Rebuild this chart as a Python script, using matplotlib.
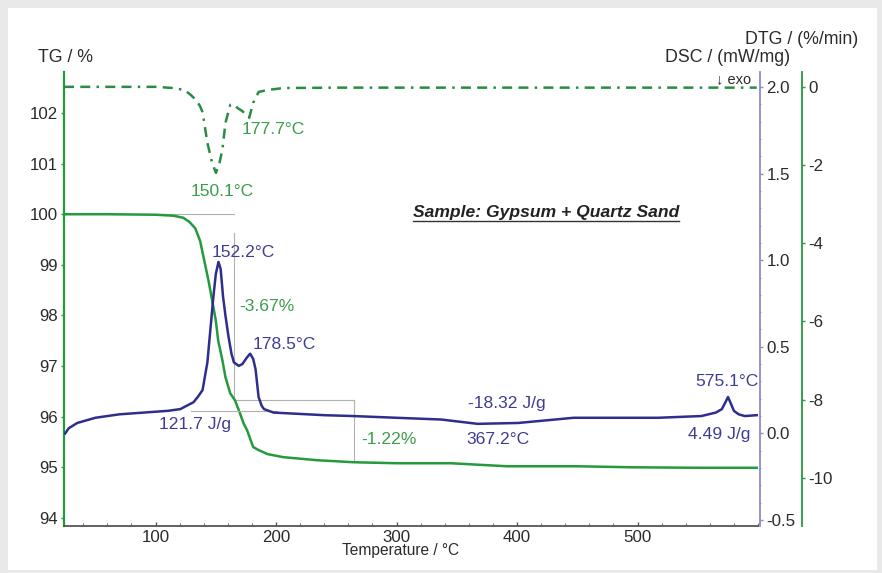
import matplotlib
matplotlib.use("Agg")
import matplotlib.pyplot as plt
from matplotlib.patches import Rectangle
from matplotlib.lines import Line2D
from matplotlib.ticker import MultipleLocator

plt.rcParams['font.family'] = ['Liberation Sans', 'DejaVu Sans']

# ---------------- data ----------------
tg_temp = [24, 60, 100, 115, 123, 128, 133, 137, 140, 144, 147, 150, 152, 155.5, 158,
           162, 166, 170, 173, 176, 181, 185.5, 193, 206, 234, 264, 300, 345, 392,
           450, 496, 553, 599]
tg_val = [100.0, 100.0, 99.99, 99.97, 99.93, 99.85, 99.72, 99.47, 99.13, 98.68, 98.29,
          97.9, 97.5, 97.11, 96.78, 96.46, 96.32, 96.07, 95.87, 95.73, 95.4, 95.34,
          95.26, 95.2, 95.14, 95.1, 95.08, 95.08, 95.02, 95.02, 95.0, 94.99, 94.99]

dsc_temp = [25, 28, 35, 50, 70, 90, 110, 120.5, 126, 131.5, 135, 139, 143, 145.5, 148,
            150, 152.2, 154, 156, 158, 160.5, 163, 165, 169, 172, 176, 178.5, 181, 183,
            185.5, 188, 190, 194, 198, 212, 240, 264, 300, 337, 367.2, 401, 447,
            480, 517, 553, 565, 570, 573, 575.1, 577, 580, 584, 589, 599]
dsc_val = [0.0, 0.03, 0.06, 0.09, 0.11, 0.12, 0.13, 0.14, 0.16, 0.18, 0.21, 0.25, 0.41,
           0.60, 0.79, 0.92, 0.99, 0.95, 0.79, 0.68, 0.56, 0.46, 0.41, 0.39, 0.40, 0.44,
           0.46, 0.43, 0.37, 0.21, 0.16, 0.14, 0.13, 0.12, 0.115, 0.105, 0.10, 0.09,
           0.08, 0.055, 0.06, 0.09, 0.09, 0.09, 0.10, 0.12, 0.14, 0.18, 0.21, 0.18,
           0.13, 0.11, 0.10, 0.105]

dtg_temp = [24, 60, 100, 115, 124, 129, 134, 137, 139, 143, 147, 150.1, 153, 155.5, 158,
            162, 165, 168, 172, 177.7, 181, 185.5, 193, 206, 250, 300, 350, 400, 450,
            500, 550, 599]
dtg_val = [0.0, 0.0, 0.0, -0.03, -0.08, -0.2, -0.35, -0.5, -0.65, -1.43, -1.95, -2.2,
           -1.95, -1.6, -0.92, -0.46, -0.45, -0.54, -0.62, -0.79, -0.41, -0.13, -0.08,
           -0.03, -0.02, -0.02, -0.02, -0.02, -0.02, -0.02, -0.02, -0.02]

x_ticks = [100, 200, 300, 400, 500]
tg_ticks = [94, 95, 96, 97, 98, 99, 100, 101, 102]
dsc_ticks = [-0.5, 0.0, 0.5, 1.0, 1.5, 2.0]
dtg_ticks = [-10, -8, -6, -4, -2, 0]

# ---------------- styles ----------------
GREEN = '#239a3c'
GREEN_D = '#2a8c44'
GREEN_T = '#3c9c4a'
NAVY = '#2e2e8c'
NAVY_T = '#3d3d95'
PURPLE_AX = '#8c8cc8'
GRAY = '#b0b0b0'
TXT = '#2b2b2b'
FS_TICK = 12.2
FS_NOTE = 12.6
FS_TITLE = 12.8
FS_X = 11.2

W, H = 882, 573
fig = plt.figure(figsize=(W / 100, H / 100), dpi=100, facecolor='#e9e9e9')
fig.patches.append(Rectangle((8 / W, 3 / H), 869 / W, 562 / H, transform=fig.transFigure,
                             facecolor='white', edgecolor='none', zorder=-10))

L, R, B, T = 64, 758, 526, 72
ax = fig.add_axes([L / W, 1 - B / H, (R - L) / W, (B - T) / H])
ax.patch.set_alpha(0)
ax.set_xlim(24, 600)
ax.set_ylim(93.84, 102.81)

ax_dsc = ax.twinx()
ax_dsc.set_ylim(-0.535, 2.087)
ax_dtg = ax.twinx()
ax_dtg.set_ylim(-11.23, 0.38)

for a in (ax, ax_dsc, ax_dtg):
    a.spines['top'].set_visible(False)

ax.spines['right'].set_visible(False)
ax.spines['left'].set_color(GREEN)
ax.spines['left'].set_linewidth(1.6)
ax.spines['bottom'].set_color('#555555')
ax.spines['bottom'].set_linewidth(1.3)

ax_dsc.spines['left'].set_visible(False)
ax_dsc.spines['bottom'].set_visible(False)
ax_dsc.spines['right'].set_color(PURPLE_AX)
ax_dsc.spines['right'].set_linewidth(1.3)
ax_dsc.spines['right'].set_position(('outward', 1.5))

ax_dtg.spines['left'].set_visible(False)
ax_dtg.spines['bottom'].set_visible(False)
ax_dtg.spines['right'].set_color(GREEN)
ax_dtg.spines['right'].set_linewidth(1.3)
ax_dtg.spines['right'].set_position(('outward', 44 * 0.72))

# ticks
ax.set_xticks(x_ticks)
ax.xaxis.set_minor_locator(MultipleLocator(20))
ax.tick_params(axis='x', direction='in', length=3, width=1, color='#555555',
               labelsize=FS_TICK, labelcolor=TXT, pad=3)
ax.tick_params(axis='x', which='minor', direction='in', length=2, color='#555555')
ax.set_yticks(tg_ticks)
ax.tick_params(axis='y', direction='out', length=2.5, width=1, color=GREEN,
               labelsize=FS_TICK, labelcolor=TXT, pad=2)

ax_dsc.set_yticks(dsc_ticks)
ax_dsc.set_yticklabels([f'{v:.1f}' for v in dsc_ticks])
ax_dsc.yaxis.set_minor_locator(MultipleLocator(0.1))
ax_dsc.tick_params(axis='y', direction='out', length=2.5, width=1, color=PURPLE_AX,
                   labelsize=FS_TICK, labelcolor=TXT, pad=2)
ax_dsc.tick_params(axis='y', which='minor', direction='inout', length=2, color=PURPLE_AX)

ax_dtg.set_yticks(dtg_ticks)
ax_dtg.set_yticklabels([str(v) for v in dtg_ticks])
ax_dtg.tick_params(axis='y', direction='out', length=2.5, width=1, color=GREEN,
                   labelsize=FS_TICK, labelcolor=TXT, pad=2)

# guide lines (evaluation helpers)
ax.plot([24, 165], [100.0, 100.0], color=GRAY, lw=0.8, zorder=1)
ax.plot([165, 165], [99.63, 96.33], color=GRAY, lw=0.8, zorder=1)
ax.plot([165, 265], [96.33, 96.33], color=GRAY, lw=0.8, zorder=1)
ax.plot([265, 265], [96.33, 95.1], color=GRAY, lw=0.8, zorder=1)
ax_dsc.plot([129, 201], [0.127, 0.127], color=GRAY, lw=0.8, zorder=1)

# curves
ax.plot(tg_temp, tg_val, color=GREEN, lw=1.8, zorder=3)
ax_dsc.plot(dsc_temp, dsc_val, color=NAVY, lw=1.8, zorder=3)
ax_dtg.plot(dtg_temp, dtg_val, color=GREEN_D, lw=1.8,
            linestyle=(0, (4, 2.5, 4, 2.5, 1, 2.5)), zorder=3)

# annotations (placed in TG data coordinates)
def note(x, y, s, c, fs=FS_NOTE):
    ax.text(x, y, s, color=c, fontsize=fs, ha='center', va='center', zorder=5)

note(155, 100.45, '150.1°C', GREEN_T)
note(198, 101.67, '177.7°C', GREEN_T)
note(173, 99.24, '152.2°C', NAVY_T)
note(192, 98.17, '-3.67%', GREEN_T)
note(207, 97.42, '178.5°C', NAVY_T)
note(133, 95.84, '121.7 J/g', NAVY_T)
note(294, 95.54, '-1.22%', GREEN_T)
note(391.5, 96.26, '-18.32 J/g', NAVY_T)
note(384, 95.54, '367.2°C', NAVY_T)
note(574, 96.69, '575.1°C', NAVY_T)
note(568, 95.64, '4.49 J/g', NAVY_T)
note(580, 102.66, '↓ exo', TXT, fs=10.5)

st = ax.text(424, 100.03, 'Sample: Gypsum + Quartz Sand', color='#222222', fontsize=FS_NOTE,
             fontweight='bold', fontstyle='italic', ha='center', va='center', zorder=5)

# axis titles
fig.text(66 / W, 1 - 57 / H, 'TG / %', color=TXT, fontsize=FS_TITLE, ha='center', va='center')
fig.text(858 / W, 1 - 40 / H, 'DTG / (%/min)', color=TXT, fontsize=FS_TITLE, ha='right', va='center')
fig.text(790 / W, 1 - 57 / H, 'DSC / (mW/mg)', color=TXT, fontsize=FS_TITLE, ha='right', va='center')
fig.text(401 / W, 1 - 551 / H, 'Temperature / °C', color=TXT, fontsize=FS_X, ha='center', va='center')

# underline for sample label
fig.canvas.draw()
bb = st.get_window_extent()
fig.add_artist(Line2D([bb.x0 / W, bb.x1 / W], [(bb.y0 - 1) / H, (bb.y0 - 1) / H],
                      transform=fig.transFigure, color='#333333', lw=1.0))

fig.savefig('out.png', dpi=100, facecolor=fig.get_facecolor())
